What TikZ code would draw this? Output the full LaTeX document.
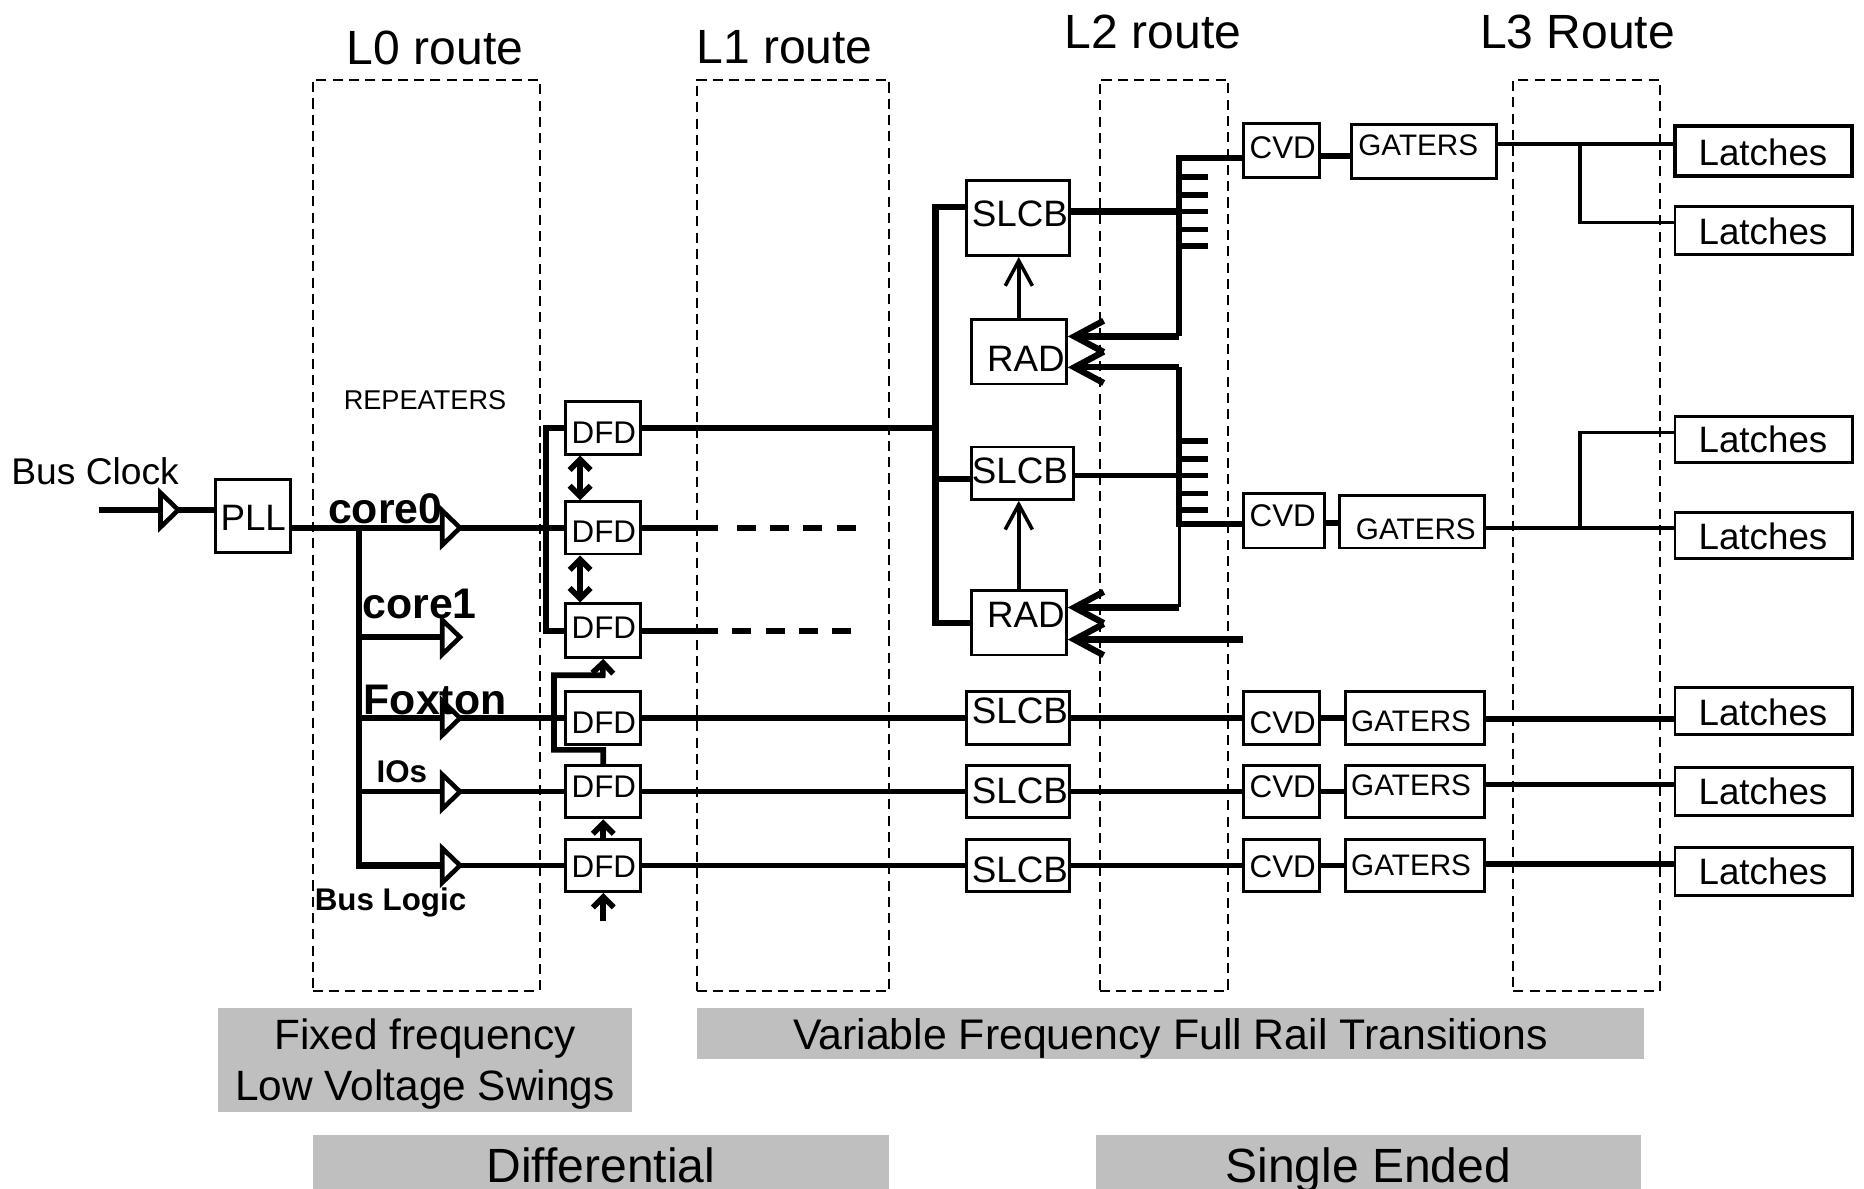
\documentclass[tikz,border=0pt]{standalone}
\usepackage{fontspec}
\setmainfont{Liberation Sans}
\usetikzlibrary{arrows.meta,shapes.geometric}
\tikzset{
    blockbox/.style 2 args={draw,line width=1.4pt,inner sep=0pt,minimum width=#1*0.02cm,minimum height=#2*0.02cm},
    routebox/.style 2 args={draw,line width=1pt,dash pattern=on 4.8pt off 3pt,inner sep=0pt,minimum width=#1*0.02cm,minimum height=#2*0.02cm},
    bandbox/.style 2 args={fill=black!25,inner sep=0pt,align=center,text depth=0pt,minimum width=#1*0.02cm,minimum height=#2*0.02cm},
    bufnode/.style={draw,isosceles triangle,isosceles triangle stretches,inner sep=0pt,outer sep=0pt,line width=2.2pt,anchor=lower side,minimum width=29*0.02cm,minimum height=15*0.02cm},
    fatwire/.style={line width=3pt},
    wire/.style={line width=2.6pt},
    thinwire/.style={line width=1.7pt},
    tiptiny/.style={line width=2.7pt,>={Straight Barb[length=5pt,width=10pt]}},
    tipbig/.style={line width=3pt,>={Straight Barb[length=14pt,width=15pt]}},
    tipthin/.style={line width=1.7pt,>={Straight Barb[length=12pt,width=13pt]}},
    titletext/.style={font=\fontsize{23}{27}\selectfont},
    blocktext/.style={font=\fontsize{17.6}{21}\selectfont},
    smalltext/.style={font=\fontsize{15}{18}\selectfont},
    boldtext/.style={font=\fontsize{20.5}{24}\selectfont\bfseries},
    boldsmall/.style={font=\fontsize{15}{18}\selectfont\bfseries}
}
\begin{document}
\begin{tikzpicture}[x=0.02cm,y=-0.02cm]
    \useasboundingbox (0,0) rectangle (1568,1000);

    % route columns
    \node (routeA) [routebox={191}{767}] at (358.5,450.5) {};
    \node (routeB) [routebox={162}{767}] at (667,450.5) {};
    \node (routeC) [routebox={108}{767}] at (979,450.5) {};
    \node (routeD) [routebox={123}{767}] at (1334.5,450.5) {};
    \node (titleA) [titletext] at (366,40) {L0 route};
    \node (titleB) [titletext] at (660,40) {L1 route};
    \node (titleC) [titletext] at (970,27) {L2 route};
    \node (titleD) [titletext] at (1327,27) {L3 Route};

    % grey bands
    \node (bandA) [bandbox={349}{87},font=\fontsize{20.3}{24.5}\selectfont] at (357.5,891.5) {Fixed frequency\\Low Voltage Swings};
    \node (bandB) [bandbox={797}{43},font=\fontsize{20.5}{24.5}\selectfont] at (984.5,869.5) {Variable Frequency Full Rail Transitions};
    \node (bandC) [bandbox={485}{50},font=\fontsize{23}{27}\selectfont] at (505.5,980) {Differential};
    \node (bandD) [bandbox={458}{50},font=\fontsize{23}{27}\selectfont] at (1151,980) {Single Ended};

    % left side
    \node (clockText) [font=\fontsize{17.8}{21}\selectfont] at (80,396) {Bus Clock};
    \node (repeatText) [font=\fontsize{13}{16}\selectfont] at (357.5,337) {REPEATERS};
    \coordinate (clockIn) at (83,429);
    \node (bufClock) [bufnode] at (135,429) {};
    \node (pll) [blockbox={63}{62}] at (212.5,434) {};
    \node (pllText) [blocktext] at (213,436) {PLL};
    \node (bufA) [bufnode] at (372,444) {};
    \node (bufB) [bufnode] at (372,536) {};
    \node (bufC) [bufnode] at (372,604) {};
    \node (bufD) [bufnode] at (372,666) {};
    \node (bufE) [bufnode] at (372,728) {};
    \coordinate (trunkTop) at (302,444);

    % DFD column
    \node (dfdA) [blockbox={63}{44}] at (507.5,360) {};
    \node (dfdB) [blockbox={63}{44}] at (507.5,444) {};
    \node (dfdC) [blockbox={63}{45}] at (507.5,530.5) {};
    \node (dfdD) [blockbox={63}{44}] at (507.5,604) {};
    \node (dfdE) [blockbox={63}{44}] at (507.5,666) {};
    \node (dfdF) [blockbox={63}{44}] at (507.5,728) {};
    \node (dfdAtext) [smalltext] at (508,364) {DFD};
    \node (dfdBtext) [smalltext] at (508,447) {DFD};
    \node (dfdCtext) [smalltext] at (508,528) {DFD};
    \node (dfdDtext) [smalltext] at (508,608) {DFD};
    \node (dfdEtext) [smalltext] at (508,662) {DFD};
    \node (dfdFtext) [smalltext] at (508,729) {DFD};
    \coordinate (bracketA) at (459,360);
    \coordinate (linkA) at (488,400);
    \coordinate (linkB) at (466,600);
    \coordinate (dashA) at (604,444);
    \coordinate (dashAstart) at (620,444);
    \coordinate (dashAend) at (721,444);
    \coordinate (dashB) at (604,530.5);
    \coordinate (dashBstart) at (616,530.5);
    \coordinate (dashBend) at (718,530.5);
    \coordinate (strobeIn) at (507.5,775);

    % SLCB and RAD column
    \node (slcbA) [blockbox={87}{63}] at (856.5,183.5) {};
    \node (slcbB) [blockbox={86}{44}] at (860,398) {};
    \node (slcbC) [blockbox={87}{44}] at (856.5,604) {};
    \node (slcbD) [blockbox={87}{44}] at (856.5,666) {};
    \node (slcbE) [blockbox={87}{44}] at (856.5,728) {};
    \node (slcbAtext) [blocktext] at (858,180) {SLCB};
    \node (slcbBtext) [blocktext] at (858,396) {SLCB};
    \node (slcbCtext) [blocktext] at (858,598) {SLCB};
    \node (slcbDtext) [blocktext] at (858,665) {SLCB};
    \node (slcbEtext) [blocktext] at (858,732) {SLCB};
    \node (radA) [blockbox={80}{54}] at (857,296) {};
    \node (radB) [blockbox={80}{54}] at (857,524) {};
    \node (radAtext) [blocktext] at (863,302) {RAD};
    \node (radBtext) [blocktext] at (863,517) {RAD};
    \coordinate (feedA) at (787,360);

    % CVD and GATERS columns
    \node (cvdA) [blockbox={64}{45}] at (1078,126.5) {};
    \node (cvdB) [blockbox={68}{46}] at (1080,438) {};
    \node (cvdC) [blockbox={64}{44}] at (1078,604) {};
    \node (cvdD) [blockbox={64}{44}] at (1078,666) {};
    \node (cvdE) [blockbox={64}{44}] at (1078,728) {};
    \node (cvdAtext) [smalltext] at (1079,124) {CVD};
    \node (cvdBtext) [smalltext] at (1079,434) {CVD};
    \node (cvdCtext) [smalltext] at (1079,608) {CVD};
    \node (cvdDtext) [smalltext] at (1079,662) {CVD};
    \node (cvdEtext) [smalltext] at (1079,729) {CVD};
    \node (gatersA) [blockbox={122}{45}] at (1198,127.5) {};
    \node (gatersB) [blockbox={122}{44}] at (1188,439) {};
    \node (gatersC) [blockbox={117}{44}] at (1190.5,604) {};
    \node (gatersD) [blockbox={117}{44}] at (1190.5,666) {};
    \node (gatersE) [blockbox={117}{44}] at (1190.5,728) {};
    \node (gatersAtext) [font=\fontsize{14.2}{17}\selectfont] at (1193,122) {GATERS};
    \node (gatersBtext) [font=\fontsize{14.2}{17}\selectfont] at (1191,445) {GATERS};
    \node (gatersCtext) [font=\fontsize{14.2}{17}\selectfont] at (1187,607) {GATERS};
    \node (gatersDtext) [font=\fontsize{14.2}{17}\selectfont] at (1187,661) {GATERS};
    \node (gatersEtext) [font=\fontsize{14.2}{17}\selectfont] at (1187,728) {GATERS};

    % Latches column
    \node (latchA) [blockbox={149}{42},line width=2.2pt] at (1483.5,127) {};
    \node (latchB) [blockbox={149}{40}] at (1483.5,194) {};
    \node (latchC) [blockbox={149}{39}] at (1483.5,369.5) {};
    \node (latchD) [blockbox={149}{39}] at (1483.5,450.5) {};
    \node (latchE) [blockbox={149}{40}] at (1483.5,598) {};
    \node (latchF) [blockbox={149}{40}] at (1483.5,666) {};
    \node (latchG) [blockbox={149}{40}] at (1483.5,733) {};
    \node (latchAtext) [blocktext] at (1483,128) {Latches};
    \node (latchBtext) [blocktext] at (1483,195) {Latches};
    \node (latchCtext) [blocktext] at (1483,370) {Latches};
    \node (latchDtext) [blocktext] at (1483,451) {Latches};
    \node (latchEtext) [blocktext] at (1483,599) {Latches};
    \node (latchFtext) [blocktext] at (1483,666) {Latches};
    \node (latchGtext) [blocktext] at (1483,733) {Latches};
    \coordinate (tapA) at (1329,121);
    \coordinate (tapB) at (1329,444);
    \coordinate (combA) at (992,133);
    \coordinate (combB) at (992,441);
    \coordinate (combAend) at (992,283);
    \coordinate (combBtop) at (992,309);
    \coordinate (combBend) at (992,511);
    \coordinate (radIn) at (1046,538);

    % clock wires
    \draw[fatwire] (clockIn) -- (bufClock.lower side);
    \draw[fatwire] (bufClock.apex) -- (pll.west |- bufClock.apex);
    \draw[fatwire] (pll.east |- bufA.lower side) -- (bufA.lower side);
    \draw[wire] (bufA.apex) -- (dfdB.west);
    \draw[fatwire] (trunkTop) -- (trunkTop |- bufE.lower side) -- (bufE.lower side);
    \draw[wire] (trunkTop |- bufB.lower side) -- (bufB.lower side);
    \draw[wire] (trunkTop |- bufC.lower side) -- (bufC.lower side);
    \draw[wire] (trunkTop |- bufD.lower side) -- (bufD.lower side);
    \draw[wire] (bufC.apex) -- (dfdD.west);
    \draw[wire] (bufD.apex) -- (dfdE.west);
    \draw[wire] (bufE.apex) -- (dfdF.west);
    \draw[fatwire] (dfdA.west) -- (bracketA) -- (bracketA |- dfdC.west) -- (dfdC.west);

    % DFD links
    \draw[tiptiny,<->] (linkA |- dfdA.south) -- (linkA |- dfdB.north);
    \draw[tiptiny,<->] (linkA |- dfdB.south) -- (linkA |- dfdC.north);
    \draw[tiptiny,->] (dfdE.north) -- ++(0,-12) -| (linkB) |- ++(41,-32) -- (dfdC.south);
    \draw[tiptiny,->] (dfdF.north) -- (dfdE.south);
    \draw[tiptiny,->] (strobeIn) -- (dfdF.south);

    % L1 wires
    \draw[fatwire] (dfdA.east) -- (feedA);
    \draw[fatwire] (dfdB.east) -- (dashA);
    \draw[fatwire] (dfdC.east) -- (dashB);
    \draw[fatwire,dash pattern=on 9.1pt off 6.8pt] (dashAstart) -- (dashAend);
    \draw[fatwire,dash pattern=on 9.1pt off 6.8pt] (dashBstart) -- (dashBend);
    \draw[fatwire] (slcbA.west |- 813,174) -- (feedA |- 813,174) -- (feedA |- radB.west) -- (radB.west);
    \draw[fatwire] (feedA |- 817,403) -- (slcbB.west |- 817,403);
    \draw[wire] (dfdD.east) -- (slcbC.west);
    \draw[wire] (dfdE.east) -- (slcbD.west);
    \draw[wire] (dfdF.east) -- (slcbE.west);

    % SLCB to comb
    \draw[fatwire] (slcbA.east |- 900,178) -- (combA |- 900,178);
    \draw[wire] (slcbB.east |- 903,400) -- (combA |- 903,400);
    \draw[tipthin,->] (radA.north) -- (radA.north |- slcbA.south);
    \draw[tipthin,->] (radB.north) -- (radB.north |- slcbB.south);
    \draw[fatwire] (cvdA.west |- combA) -- (combA) -- (combAend);
    \draw[tipbig,->] (combAend) -- (radA.east |- combAend);
    \draw[fatwire] (cvdB.west |- combB) -- (combB) -- (combBtop);
    \draw[tipbig,->] (combBtop) -- (radA.east |- combBtop);
    \draw[thinwire] (combB) -- (combBend);
    \draw[tipbig,->] (combBend) -- (radB.east |- combBend);
    \draw[tipbig,->] (radIn) -- (radB.east |- radIn);

    % comb teeth
    \draw[wire] (combA |- 992,149) -- ++(24,0);
    \draw[wire] (combA |- 992,164) -- ++(24,0);
    \draw[wire] (combA |- 992,178) -- ++(24,0);
    \draw[wire] (combA |- 992,193) -- ++(24,0);
    \draw[wire] (combA |- 992,207) -- ++(24,0);
    \draw[wire] (combB |- 992,371) -- ++(24,0);
    \draw[wire] (combB |- 992,386) -- ++(24,0);
    \draw[wire] (combB |- 992,400) -- ++(24,0);
    \draw[wire] (combB |- 992,415) -- ++(24,0);
    \draw[wire] (combB |- 992,429) -- ++(24,0);

    % right side wires
    \draw[fatwire] (cvdA.east |- 1110,131) -- (gatersA.west |- 1110,131);
    \draw[fatwire] (cvdB.east |- 1114,440) -- (gatersB.west |- 1114,440);
    \draw[wire] (slcbC.east) -- (cvdC.west);
    \draw[wire] (slcbD.east) -- (cvdD.west);
    \draw[wire] (slcbE.east) -- (cvdE.west);
    \draw[wire] (cvdC.east) -- (gatersC.west);
    \draw[wire] (cvdD.east) -- (gatersD.west);
    \draw[wire] (cvdE.east) -- (gatersE.west);
    \draw[fatwire] (gatersC.east |- 1249,605) -- (latchE.west |- 1249,605);
    \draw[wire] (gatersD.east |- 1249,660) -- (latchF.west |- 1249,660);
    \draw[fatwire] (gatersE.east |- 1249,727) -- (latchG.west |- 1249,727);
    \draw[thinwire] (gatersA.east |- tapA) -- (latchA.west |- tapA);
    \draw[thinwire] (tapA) -- (1329,187) -- (latchB.west |- 1329,187);
    \draw[thinwire] (gatersB.east |- tapB) -- (latchD.west |- tapB);
    \draw[thinwire] (tapB) -- (1329,364) -- (latchC.west |- 1329,364);

    % bus labels
    \node (coreA) [boldtext] at (324,428) {core0};
    \node (coreB) [boldtext] at (353,508) {core1};
    \node (foxton) [boldtext] at (366,589) {Foxton};
    \node (ios) [boldsmall] at (338,649) {IOs};
    \node (busLogic) [boldsmall] at (328.5,759) {Bus Logic};
\end{tikzpicture}
\end{document}
